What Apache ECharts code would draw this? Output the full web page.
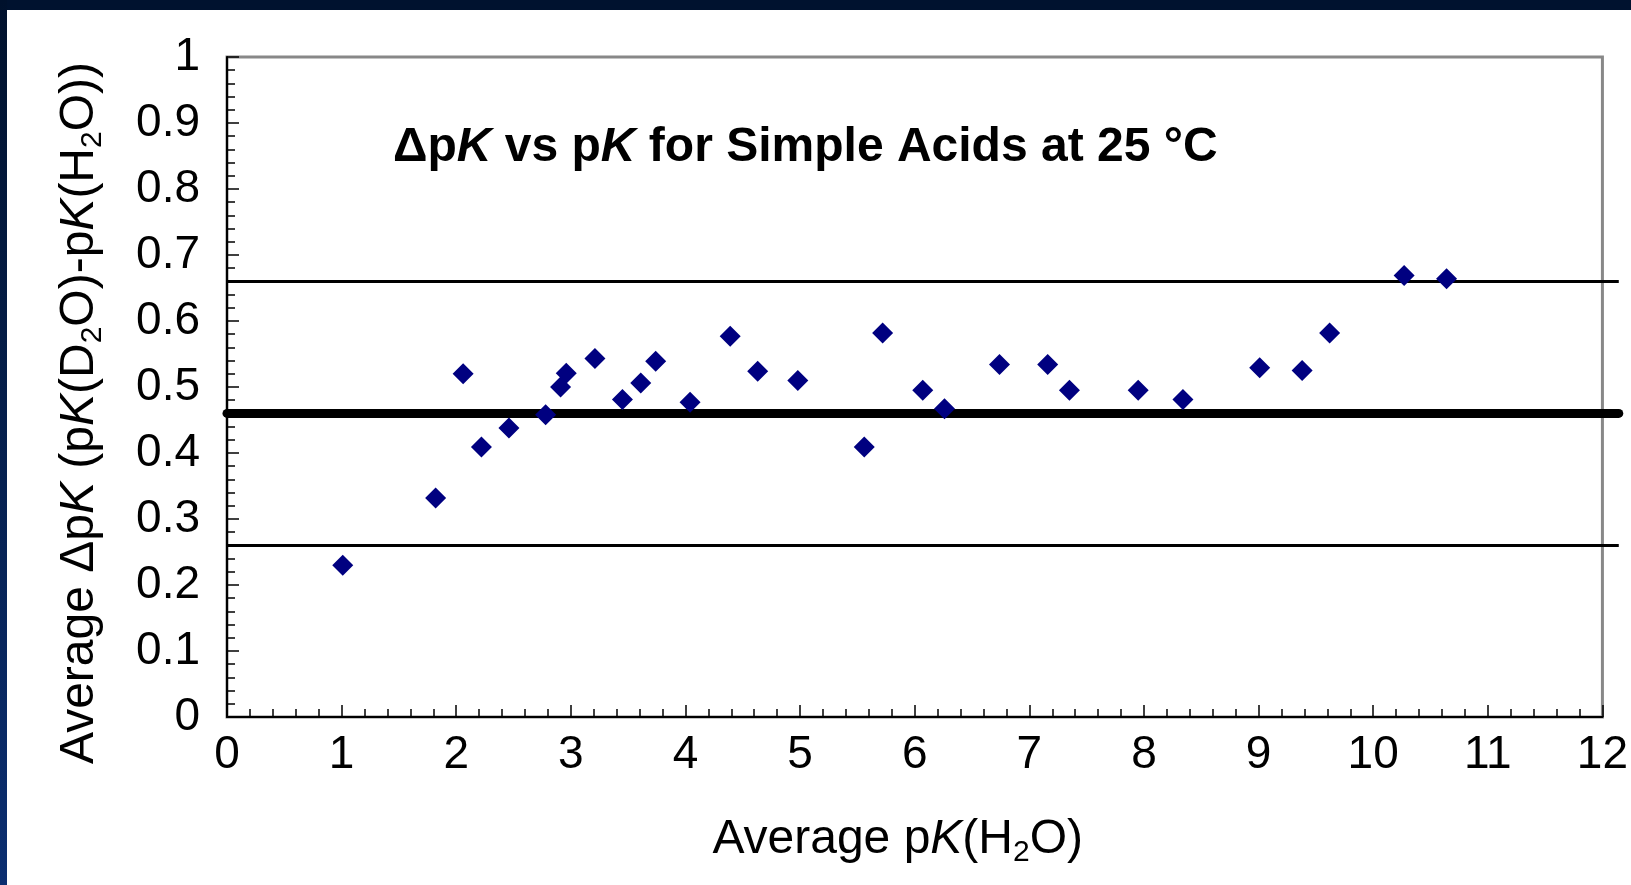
<!DOCTYPE html>
<html>
<head>
<meta charset="utf-8">
<script src="https://cdn.jsdelivr.net/npm/echarts@6/dist/echarts.min.js"></script>
<style>
html,body{margin:0;padding:0;background:#fff;overflow:hidden;}
#chart{width:1631px;height:885px;}
</style>
</head>
<body>
<div id="chart"></div>
<script>
// ---- data ----
const pkH2O = [1.01, 1.82, 2.06, 2.22, 2.46, 2.78, 2.91, 2.96, 3.21, 3.45, 3.61, 3.74, 4.04, 4.39, 4.63, 4.98, 5.56, 5.72, 6.07, 6.26, 6.74, 7.16, 7.35, 7.95, 8.34, 9.01, 9.38, 9.62, 10.27, 10.64];
const deltaPK = [0.230, 0.332, 0.520, 0.409, 0.438, 0.458, 0.500, 0.521, 0.543, 0.481, 0.506, 0.539, 0.477, 0.577, 0.524, 0.510, 0.409, 0.582, 0.495, 0.467, 0.534, 0.534, 0.495, 0.495, 0.481, 0.529, 0.525, 0.582, 0.669, 0.664];
const meanDeltaPK = 0.46;
const bandLimits = [0.26, 0.66];
const lineXRange = [0, 12.12];
const xAxisRange = [0, 12, 1];
const yAxisRange = [0, 1, 0.1];

const FONT = 'Liberation Sans, Arial, sans-serif';
const chart = echarts.init(document.getElementById('chart'), null, {renderer: 'canvas'});

const nameRich = {
  n: {fontFamily: FONT, fontSize: 48, color: '#000', lineHeight: 56},
  i: {fontFamily: FONT, fontSize: 48, color: '#000', lineHeight: 56, fontStyle: 'italic'},
  s: {fontFamily: FONT, fontSize: 30, color: '#000', lineHeight: 24, verticalAlign: 'bottom'}
};

const hLine = (y, w, cap) => ({
  type: 'line',
  xAxisIndex: 1,
  yAxisIndex: 1,
  data: lineXRange.map(x => [x, y]),
  symbol: 'none',
  clip: false,
  silent: true,
  z: 1,
  lineStyle: {color: '#000', width: w, cap: cap}
});

const PLOT = {left: 227, top: 57, bottom: 168, right: 26};
// second (invisible) grid: same scale, x extended to lineXRange[1]
const xPerUnit = (1631 - PLOT.left - PLOT.right) / (xAxisRange[1] - xAxisRange[0]);
const extRight = 1631 - PLOT.left - (lineXRange[1] - xAxisRange[0]) * xPerUnit;

const hiddenAxis = {show: false, axisLine: {show: false}, axisTick: {show: false}, axisLabel: {show: false}, splitLine: {show: false}};

const option = {
  backgroundColor: '#fff',
  animation: false,
  title: {
    text: '{b|Δp}{bi|K}{b| vs p}{bi|K}{b| for Simple Acids at 25 °C}',
    left: 393,
    top: 124,
    padding: 0,
    textStyle: {
      rich: {
        b: {fontFamily: FONT, fontSize: 48, fontWeight: 'bold', color: '#000', lineHeight: 48},
        bi: {fontFamily: FONT, fontSize: 48, fontWeight: 'bold', fontStyle: 'italic', color: '#000', lineHeight: 48}
      }
    }
  },
  graphic: [
    {type: 'rect', left: 0, top: 0, shape: {width: 1631, height: 10}, style: {fill: '#00122f'}, z: 100},
    {type: 'rect', left: 0, top: 0, shape: {width: 7, height: 885},
      style: {fill: new echarts.graphic.LinearGradient(0, 0, 0, 1, [
        {offset: 0, color: '#00112c'}, {offset: 1, color: '#0b2e70'}])}, z: 100}
  ],
  grid: [
    {left: PLOT.left, right: PLOT.right, top: PLOT.top, bottom: PLOT.bottom,
      show: true, borderColor: '#888', borderWidth: 3, backgroundColor: 'transparent'},
    {left: PLOT.left, right: extRight, top: PLOT.top, bottom: PLOT.bottom, show: false}
  ],
  xAxis: [{
    type: 'value',
    gridIndex: 0,
    min: xAxisRange[0], max: xAxisRange[1], interval: xAxisRange[2],
    name: '{n|Average p}{i|K}{n|(H}{s|2}{n|O)}',
    nameLocation: 'middle',
    nameGap: 95,
    nameTextStyle: {rich: nameRich, padding: [0, 34, 0, 0]},
    axisLine: {show: true, onZero: false, lineStyle: {color: '#000', width: 2}},
    axisTick: {show: true, inside: true, length: 12, lineStyle: {color: '#000', width: 1.5}},
    minorTick: {show: true, splitNumber: 5, length: 8, lineStyle: {color: '#000', width: 1.5}},
    splitLine: {show: false},
    axisLabel: {fontFamily: FONT, fontSize: 46, lineHeight: 46, color: '#000', margin: 15}
  }, Object.assign({type: 'value', gridIndex: 1, min: lineXRange[0], max: lineXRange[1]}, hiddenAxis)],
  yAxis: [{
    type: 'value',
    gridIndex: 0,
    min: yAxisRange[0], max: yAxisRange[1], interval: yAxisRange[2],
    name: '{n|Average Δp}{i|K}{n| (p}{i|K}{n|(D}{s|2}{n|O)-p}{i|K}{n|(H}{s|2}{n|O))}',
    nameLocation: 'middle',
    nameGap: 119,
    nameTextStyle: {rich: nameRich, padding: [0, 52, 0, 0]},
    axisLine: {show: true, onZero: false, lineStyle: {color: '#000', width: 2}},
    axisTick: {show: true, inside: true, length: 12, lineStyle: {color: '#000', width: 1.5}},
    minorTick: {show: true, splitNumber: 5, length: 8, lineStyle: {color: '#000', width: 1.5}},
    splitLine: {show: false},
    axisLabel: {fontFamily: FONT, fontSize: 46, lineHeight: 46, color: '#000', margin: 27}
  }, Object.assign({type: 'value', gridIndex: 1, min: yAxisRange[0], max: yAxisRange[1]}, hiddenAxis)],
  series: [
    hLine(bandLimits[1], 3, 'butt'),
    hLine(bandLimits[0], 3, 'butt'),
    hLine(meanDeltaPK, 9, 'round'),
    {
      type: 'scatter',
      xAxisIndex: 0,
      yAxisIndex: 0,
      data: pkH2O.map((x, k) => [x, deltaPK[k]]),
      symbol: 'diamond',
      symbolSize: 21,
      z: 5,
      itemStyle: {color: '#000080', opacity: 1}
    }
  ]
};
chart.setOption(option);
</script>
</body>
</html>
